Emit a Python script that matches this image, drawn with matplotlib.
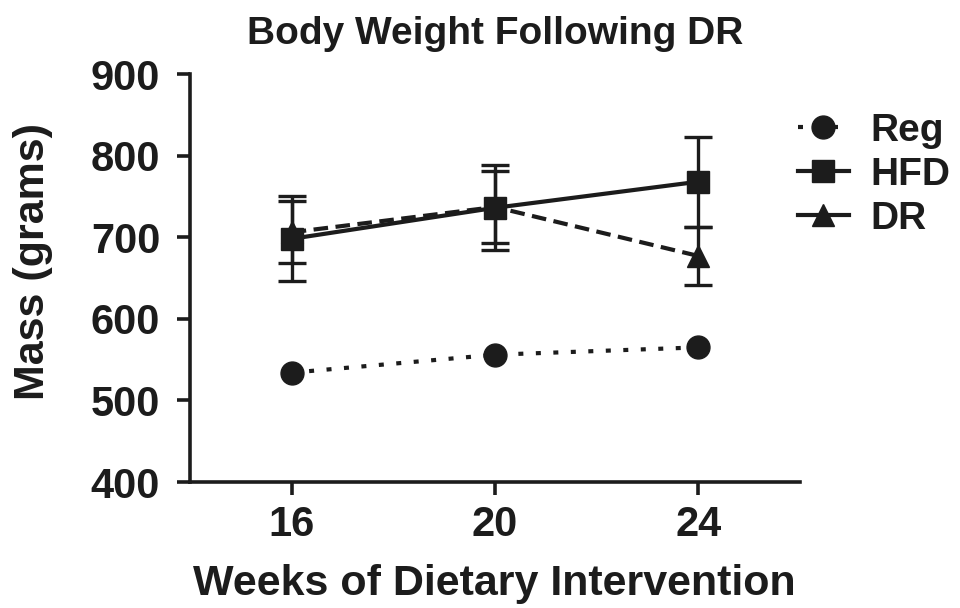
import matplotlib.pyplot as plt
from matplotlib.lines import Line2D

plt.rcParams["font.family"] = ["Liberation Sans", "DejaVu Sans"]
plt.rcParams["font.weight"] = "bold"

# weeks of dietary intervention
weeks = [16, 20, 24]

# mean body weight (g) and SEM per group
reg_mass = [534, 556, 565]
reg_err = [5, 5, 5]
hfd_mass = [698, 736, 768]
hfd_err = [52, 52, 55]
dr_mass = [706, 737, 677]
dr_err = [38, 44, 36]

ink = "#1c1c1c"

fig = plt.figure(figsize=(9.6, 6.08), dpi=100)
ax = fig.add_axes([190 / 960, 1 - 482 / 608, 610 / 960, 408 / 608])

reg_style = (0, (1.2, 3.0))
dr_style = (0, (3.5, 1.8))

ax.errorbar(weeks, reg_mass, yerr=reg_err, color=ink, ls=reg_style, lw=3,
            marker="o", ms=16.5, capsize=0, elinewidth=2.2)
ax.errorbar(weeks, dr_mass, yerr=dr_err, color=ink, ls=dr_style, lw=3,
            marker="^", ms=16, capsize=10, capthick=2.4, elinewidth=2.4)
ax.errorbar(weeks, hfd_mass, yerr=hfd_err, color=ink, ls="-", lw=3,
            marker="s", ms=16, capsize=10, capthick=2.4, elinewidth=2.4)

ax.set_xlim(14, 26)
ax.set_ylim(400, 900)
ax.set_xticks(weeks)
ax.set_yticks([400, 500, 600, 700, 800, 900])

for side in ["top", "right"]:
    ax.spines[side].set_visible(False)
for side in ["left", "bottom"]:
    ax.spines[side].set_linewidth(2.6)
    ax.spines[side].set_color(ink)

ax.tick_params(axis="both", width=2.6, length=9.5, labelsize=30, color=ink,
               labelcolor=ink, direction="out")
ax.tick_params(axis="y", pad=12)
ax.tick_params(axis="x", pad=7)

fig.text(495 / 960, 1 - 44 / 608, "Body Weight Following DR", fontsize=28,
         fontweight="bold", color=ink, ha="center", va="baseline")
fig.text(494 / 960, 1 - 595 / 608, "Weeks of Dietary Intervention", fontsize=31,
         fontweight="bold", color=ink, ha="center", va="baseline")
fig.text(33 / 960, 1 - 261 / 608, "Mass (grams)", fontsize=31, rotation=90,
         fontweight="bold", color=ink, ha="center", va="center")

handles = [
    Line2D([], [], color=ink, ls=reg_style, lw=3, marker="o", ms=16.5),
    Line2D([], [], color=ink, ls="-", lw=3, marker="s", ms=16),
    Line2D([], [], color=ink, ls="-", lw=3, marker="^", ms=16),
]
fig.legend(handles, ["Reg", "HFD", "DR"], loc="upper left",
           bbox_to_anchor=(798 / 960, 1 - 113 / 608), frameon=False,
           fontsize=28, handlelength=1.3, handletextpad=0.55, labelspacing=0.2,
           borderpad=0, borderaxespad=0, labelcolor=ink)

fig.savefig("out.png", dpi=100)
